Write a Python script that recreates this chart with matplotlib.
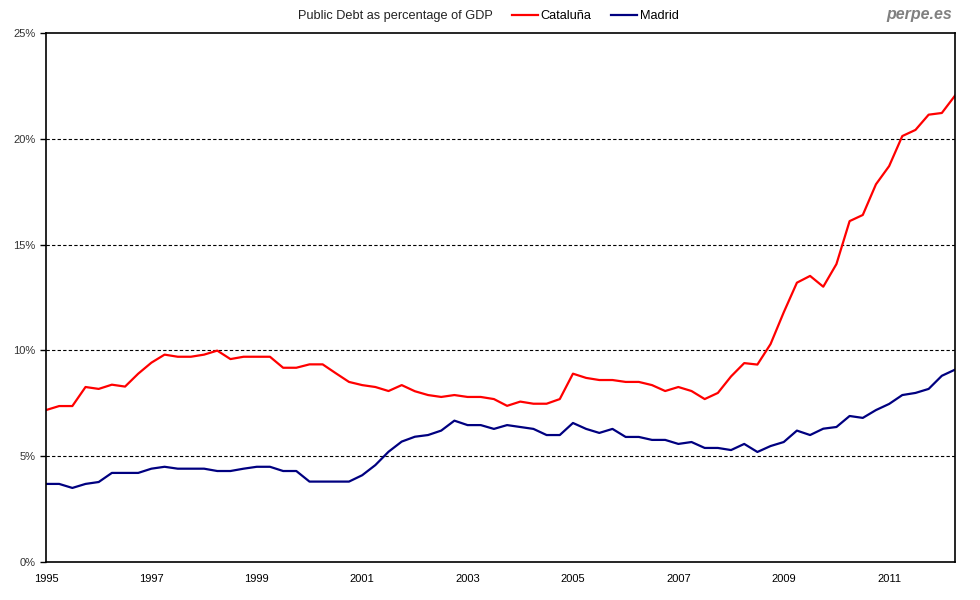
import matplotlib
matplotlib.use("Agg")
import matplotlib.pyplot as plt
import numpy as np

plt.rcParams['font.family'] = ['Liberation Sans', 'DejaVu Sans']

# quarterly data, 1995Q1 .. 2012Q2
start_year = 1995
cataluna = [7.18, 7.37, 7.37, 8.27, 8.18, 8.38, 8.29, 8.90, 9.42, 9.80,
            9.70, 9.70, 9.80, 9.99, 9.59, 9.70, 9.70, 9.70, 9.18, 9.18,
            9.34, 9.34, 8.92, 8.51, 8.36, 8.27, 8.08, 8.36, 8.07, 7.89,
            7.80, 7.89, 7.80, 7.80, 7.70, 7.38, 7.58, 7.48, 7.48, 7.70,
            8.90, 8.70, 8.60, 8.60, 8.51, 8.51, 8.36, 8.08, 8.27, 8.08,
            7.70, 7.99, 8.77, 9.40, 9.33, 10.30, 11.8, 13.20, 13.52, 13.01,
            14.08, 16.11, 16.40, 17.85, 18.71, 20.13, 20.42, 21.14, 21.22, 22.04]
madrid = [3.69, 3.69, 3.50, 3.69, 3.78, 4.21, 4.21, 4.21, 4.41, 4.50,
          4.41, 4.41, 4.41, 4.30, 4.30, 4.41, 4.50, 4.50, 4.30, 4.30,
          3.80, 3.80, 3.80, 3.80, 4.10, 4.58, 5.21, 5.69, 5.92, 6.00,
          6.21, 6.68, 6.47, 6.47, 6.29, 6.47, 6.38, 6.29, 6.00, 6.00,
          6.57, 6.29, 6.10, 6.29, 5.91, 5.91, 5.77, 5.77, 5.58, 5.67,
          5.39, 5.39, 5.29, 5.58, 5.20, 5.48, 5.67, 6.21, 6.00, 6.30,
          6.38, 6.90, 6.81, 7.18, 7.47, 7.89, 7.99, 8.18, 8.80, 9.09]
tick_years = [1995, 1997, 1999, 2001, 2003, 2005, 2007, 2009, 2011]

x = np.arange(len(cataluna))

fig = plt.figure(figsize=(9.8, 6), dpi=100)
ax = fig.add_axes([46 / 980, 38 / 600, 909 / 980, 529 / 600])

ax.plot(x, cataluna, color='#ff0000', lw=1.6, label='Cataluña')
ax.plot(x, madrid, color='#000080', lw=1.6, label='Madrid')

ax.set_xlim(0, len(x) - 1)
ax.set_ylim(0, 25)
ax.set_yticks([0, 5, 10, 15, 20, 25])
ax.set_yticklabels(['%d%%' % v for v in [0, 5, 10, 15, 20, 25]])
ax.set_xticks([(y - start_year) * 4 for y in tick_years])
ax.set_xticklabels([str(y) for y in tick_years])
ax.tick_params(axis='y', length=4, width=1, labelsize=8, colors='#333333', direction='out')
ax.tick_params(axis='y', color='black')
ax.tick_params(axis='x', length=0, labelsize=8, pad=9)
for spine in ax.spines.values():
    spine.set_linewidth(1.2)
    spine.set_color('black')

for g in [5, 10, 15, 20]:
    ax.axhline(g, color='black', lw=0.8, ls=(0, (3, 2)), zorder=0)

fig.text(395 / 980, 1 - 16 / 600, 'Public Debt as percentage of GDP', ha='center', va='center',
         fontsize=9.2, color='#222222')
fig.legend(loc='center left', bbox_to_anchor=(512 / 980, 1 - 16 / 600), ncol=2, frameon=False,
           fontsize=9.2, handlelength=2.0, handletextpad=0.2, columnspacing=1.6,
           borderaxespad=0, borderpad=0)
fig.text(952 / 980, 1 - 14 / 600, 'perpe.es', ha='right', va='center', fontsize=11.5,
         fontweight='bold', fontstyle='italic', color='#808080')

fig.savefig('out.png', dpi=100)
